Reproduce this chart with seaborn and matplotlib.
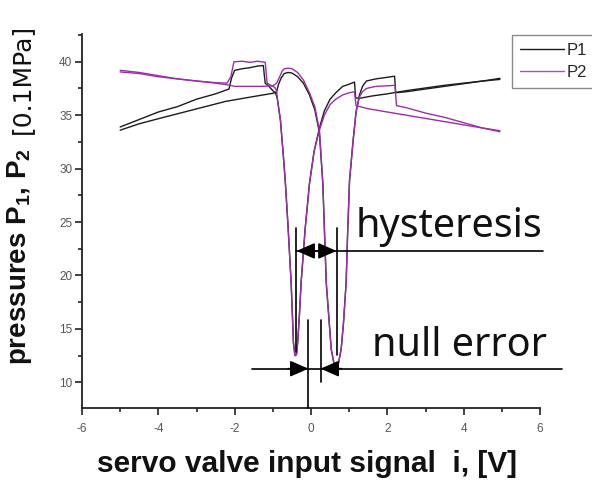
import numpy as np
import pandas as pd
import matplotlib
matplotlib.use("Agg")
import matplotlib.pyplot as plt
import seaborn as sns
from matplotlib.lines import Line2D

# ---------------- data ----------------
# P1 (black), forward sweep  (-5 -> +5)
p1_fwd_x = [-5.0, -4.5, -4.0, -3.5, -3.0, -2.5, -2.15, -2.08, -2.0, -1.8, -1.6, -1.4, -1.25,
            -1.2, -1.1, -1.0, -0.92, -0.88, -0.8, -0.72, -0.67, -0.6, -0.52, -0.46, -0.42, -0.38,
            -0.35, -0.3, -0.26, -0.15, -0.04, 0.08, 0.22, 0.35, 0.5, 0.65, 0.83, 1.0, 1.14,
            1.17, 1.3, 1.6, 2.0, 2.5, 3.0, 3.5, 4.0, 4.5, 4.95]
p1_fwd_y = [33.9, 34.6, 35.3, 35.8, 36.5, 37.0, 37.45, 38.5, 39.2, 39.35, 39.45, 39.6, 39.65,
            38.0, 37.7, 37.3, 37.0, 36.5, 34.5, 31.0, 28.6, 24.5, 19.3, 13.7, 12.5, 12.6,
            13.7, 16.5, 19.3, 24.5, 28.6, 31.6, 33.8, 35.4, 36.5, 37.1, 37.7, 37.9, 38.1,
            36.6, 36.6, 36.8, 37.0, 37.3, 37.55, 37.8, 38.0, 38.2, 38.35]
# P1 (black), reverse sweep (+5 -> -5)
p1_rev_x = [4.95, 4.5, 4.0, 3.5, 3.0, 2.5, 2.22, 2.19, 2.0, 1.7, 1.45, 1.35, 1.27, 1.18, 1.1,
            1.01, 0.96, 0.92, 0.85, 0.79, 0.72, 0.66, 0.6, 0.53, 0.4, 0.31, 0.22, 0.1, -0.04,
            -0.2, -0.35, -0.5, -0.6, -0.7, -0.78, -0.85, -0.9, -1.0, -1.5, -2.23, -3.1, -3.97,
            -4.5, -5.0]
p1_rev_y = [38.45, 38.2, 37.95, 37.7, 37.45, 37.2, 37.1, 38.65, 38.55, 38.4, 38.2, 37.7, 36.9,
            35.3, 32.5, 28.9, 24.0, 19.3, 15.5, 13.1, 11.8, 11.5, 11.8, 13.1, 19.3, 28.6, 33.4,
            35.5, 36.9, 38.0, 38.6, 38.95, 39.0, 38.9, 38.5, 37.9, 37.2, 37.05, 36.75, 36.3,
            35.5, 34.7, 34.2, 33.6]

# P2 (purple), forward sweep (-5 -> +5)
p2_fwd_x = [-5.0, -4.5, -4.0, -3.5, -3.0, -2.5, -2.2, -2.1, -2.02, -1.8, -1.6, -1.4, -1.2,
            -1.15, -1.05, -0.95, -0.9, -0.88, -0.8, -0.72, -0.67, -0.6, -0.52, -0.46, -0.42,
            -0.38, -0.35, -0.3, -0.26, -0.15, -0.04, 0.08, 0.22, 0.35, 0.5, 0.65, 0.83, 1.0,
            1.14, 1.18, 1.5, 2.0, 2.5, 3.0, 3.5, 4.0, 4.5, 4.95]
p2_fwd_y = [39.2, 39.0, 38.7, 38.4, 38.2, 38.05, 38.0, 38.6, 40.0, 40.05, 39.95, 40.05, 39.95,
            38.0, 37.8, 37.6, 37.3, 36.5, 34.5, 31.0, 28.6, 24.5, 19.3, 13.7, 12.5,
            12.6, 13.7, 16.5, 19.3, 24.5, 28.6, 31.6, 33.6, 35.0, 36.0, 36.5, 36.9, 37.1,
            37.2, 35.9, 35.6, 35.3, 35.0, 34.7, 34.4, 34.1, 33.8, 33.55]
# P2 (purple), reverse sweep (+5 -> -5)
p2_rev_x = [4.95, 4.5, 4.0, 3.5, 3.0, 2.5, 2.24, 2.2, 2.0, 1.7, 1.45, 1.35, 1.27, 1.18, 1.1,
            1.01, 0.96, 0.92, 0.85, 0.79, 0.72, 0.66, 0.6, 0.53, 0.4, 0.31, 0.22, 0.1, -0.04,
            -0.2, -0.35, -0.5, -0.6, -0.7, -0.76, -0.82, -0.9, -1.0, -1.3, -1.6, -2.0, -2.2,
            -2.5, -3.0, -3.5, -4.0, -4.5, -5.0]
p2_rev_y = [33.45, 33.8, 34.3, 34.8, 35.2, 35.7, 35.9, 37.8, 37.75, 37.7, 37.5, 37.2, 36.7,
            35.3, 32.5, 28.9, 24.0, 19.3, 15.5, 13.1, 11.8, 11.5, 11.8, 13.1, 19.3, 28.6, 33.6,
            35.8, 37.1, 38.3, 39.0, 39.35, 39.4, 39.35, 39.1, 38.6, 38.0, 37.75, 37.7, 37.7,
            37.7, 37.85, 38.0, 38.2, 38.4, 38.6, 38.9, 39.05]

series_names = ["P1", "P2"]
x_ticks = [-6, -4, -2, 0, 2, 4, 6]
y_ticks = [10, 15, 20, 25, 30, 35, 40]

# ---------------- build table ----------------
rows = []
for name, sweep, xs, ys in [("P1", "fwd", p1_fwd_x, p1_fwd_y), ("P1", "rev", p1_rev_x, p1_rev_y),
                            ("P2", "fwd", p2_fwd_x, p2_fwd_y), ("P2", "rev", p2_rev_x, p2_rev_y)]:
    for xv, yv in zip(xs, ys):
        rows.append({"i": xv, "p": yv, "series": name, "unit": name + sweep})
df = pd.DataFrame(rows)

# ---------------- style ----------------
sns.set_style("ticks")
plt.rcParams["font.family"] = ["Liberation Sans", "DejaVu Sans"]
plt.rcParams["mathtext.fontset"] = "custom"
plt.rcParams["mathtext.rm"] = "Liberation Sans:bold"
plt.rcParams["mathtext.bf"] = "Liberation Sans:bold"
plt.rcParams["mathtext.it"] = "Liberation Sans:bold"

BLACK = "#1c1c1c"
PURPLE = "#9c2fa6"
palette = {"P1": BLACK, "P2": PURPLE}

fig = plt.figure(figsize=(5.92, 4.84), dpi=100)
ax = fig.add_axes([82 / 592, 1 - 408 / 484, (540 - 82) / 592, (408 - 34) / 484])

sns.lineplot(data=df, x="i", y="p", hue="series", units="unit", estimator=None, sort=False,
             palette=palette, hue_order=series_names, linewidth=1.0, legend=False, ax=ax)

ax.set_xlim(-6, 6)
ax.set_ylim(7.6, 42.6)
ax.set_xticks(x_ticks)
ax.set_yticks(y_ticks)
ax.set_xticks([-5, -3, -1, 1, 3, 5], minor=True)
ax.set_yticks([12.5, 17.5, 22.5, 27.5, 32.5, 37.5, 42.5], minor=True)
ax.set_xticklabels([str(t) for t in x_ticks])
ax.set_yticklabels([str(t) for t in y_ticks])
ax.set_xlabel("")
ax.set_ylabel("")
for s in ["top", "right"]:
    ax.spines[s].set_visible(False)
for s in ["left", "bottom"]:
    ax.spines[s].set_linewidth(1.3)
    ax.spines[s].set_color("#222222")
ax.tick_params(which="major", direction="out", length=5, width=1.2, color="#222222",
               labelsize=8.5, labelcolor="#555555")
ax.tick_params(axis="x", which="major", pad=6)
ax.tick_params(axis="y", which="major", pad=2)
ax.tick_params(which="minor", direction="out", length=3, width=1.2, color="#222222")

# ---------------- legend ----------------
handles = [Line2D([], [], color=BLACK, lw=1.0), Line2D([], [], color="#b04cc0", lw=1.0)]
leg = ax.legend(handles, series_names, loc="upper left",
                bbox_to_anchor=(512 / 592, 1 - 35 / 484), bbox_transform=fig.transFigure,
                frameon=True, fancybox=False, framealpha=1, edgecolor="#8a8a8a",
                fontsize=12, handlelength=2.6, handletextpad=0.15, borderpad=0.5,
                labelspacing=0.4, borderaxespad=0)
leg.get_frame().set_linewidth(1.0)

# ---------------- annotations ----------------
ann_kw = dict(color="black", lw=1.2, clip_on=False, zorder=5)
# hysteresis
ax.plot([-0.38, -0.38], [24.46, 12.85], **ann_kw)
ax.plot([0.67, 0.67], [24.46, 12.6], **ann_kw)
ax.plot([-0.38, 6.08], [22.3, 22.3], **ann_kw)
arrow = dict(arrowstyle="-|>,head_length=0.8,head_width=0.35", color="black", lw=1.2,
             shrinkA=0, shrinkB=0, mutation_scale=14)
ax.annotate("", xy=(-0.38, 22.3), xytext=(0.14, 22.3), arrowprops=arrow, annotation_clip=False)
ax.annotate("", xy=(0.67, 22.3), xytext=(0.14, 22.3), arrowprops=arrow, annotation_clip=False)
# null error
ax.plot([-0.066, -0.066], [15.85, 7.6], **ann_kw)
ax.plot([0.25, 0.25], [15.85, 10.0], **ann_kw)
ax.plot([-1.54, 6.57], [11.28, 11.28], **ann_kw)
ax.annotate("", xy=(-0.066, 11.28), xytext=(-0.6, 11.28), arrowprops=arrow, annotation_clip=False)
ax.annotate("", xy=(0.25, 11.28), xytext=(0.8, 11.28), arrowprops=arrow, annotation_clip=False)

ax.text(1.16, 23.64, "hysteresis", fontsize=28.5, family=["Noto Sans", "DejaVu Sans"],
        color="#111111", ha="left", va="baseline", clip_on=False)
ax.text(1.6, 12.43, "null error", fontsize=28.5, family=["Noto Sans", "DejaVu Sans"],
        color="#111111", ha="left", va="baseline", clip_on=False)

# ---------------- axis titles ----------------
fig.text(307 / 592, 1 - 472 / 484, "servo valve input signal  i, [V]", fontsize=21.5,
         fontweight="bold", ha="center", va="baseline", color="#111111")
fig.text(26 / 592, 1 - 365 / 484, r"pressures P$_\mathbf{1}$, P$_\mathbf{2}$", fontsize=20,
         fontweight="bold", rotation=90, rotation_mode="anchor", ha="left", va="baseline",
         color="#111111")
fig.text(29 / 592, 1 - 134 / 484, "[0.1MPa]", fontsize=18, family=["DejaVu Sans"],
         rotation=90, rotation_mode="anchor", ha="left", va="baseline", color="#111111")

fig.savefig("out.png", dpi=100)
